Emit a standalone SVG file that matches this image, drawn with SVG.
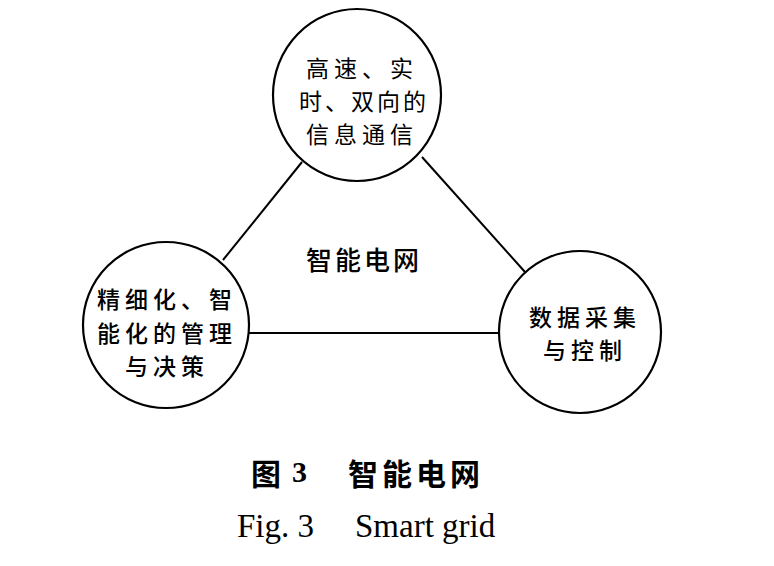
<svg xmlns="http://www.w3.org/2000/svg" width="774" height="566" viewBox="0 0 774 566">
<style>
.node{fill:#fff;stroke:#000;stroke-width:2.2}
.conn line{stroke:#000;stroke-width:2}
.cn{font-family:"Noto Sans CJK SC","Noto Sans",sans-serif;font-size:23px;fill:#000;text-anchor:middle;dominant-baseline:central;letter-spacing:5px}
.b{font-weight:500}
.cap{font-family:"Noto Sans CJK SC",sans-serif;font-size:30px;font-weight:bold;fill:#000;dominant-baseline:central}
.en{font-family:"Liberation Serif","Times New Roman",serif;font-size:33px;fill:#000}
</style>
<rect width="774" height="566" fill="#fff"/>
<g id="connectors" class="conn">
<line x1="302" y1="162" x2="223" y2="260"/>
<line x1="422" y1="157" x2="525" y2="272"/>
<line x1="249" y1="333" x2="500" y2="333"/>
</g>
<g id="node-top">
<ellipse class="node" cx="357" cy="95" rx="84" ry="86"/>
<text class="cn" x="362" y="67">高速、实</text>
<text class="cn" x="364" y="100" style="letter-spacing:3px">时、双向的</text>
<text class="cn" x="362" y="133">信息通信</text>
</g>
<g id="node-left">
<circle class="node" cx="166" cy="325" r="83"/>
<text class="cn b" x="167" y="298">精细化、智</text>
<text class="cn b" x="167" y="332">能化的管理</text>
<text class="cn b" x="167" y="365">与决策</text>
</g>
<g id="node-right">
<circle class="node" cx="580" cy="332" r="81"/>
<text class="cn b" x="585" y="316">数据采集</text>
<text class="cn b" x="585" y="349">与控制</text>
</g>
<g id="center-label">
<text class="cn" x="364" y="258" style="font-size:26px;font-weight:500;letter-spacing:3px">智能电网</text>
</g>
<g id="caption">
<text class="cap" x="251" y="472">图</text>
<text x="292" y="482" style="font-family:'Liberation Serif',serif;font-size:30px;font-weight:bold">3</text>
<text class="cap" x="348" y="472" style="letter-spacing:4px">智能电网</text>
<text class="en" x="237" y="537">Fig. 3</text>
<text class="en" x="355" y="537">Smart grid</text>
</g>
</svg>
